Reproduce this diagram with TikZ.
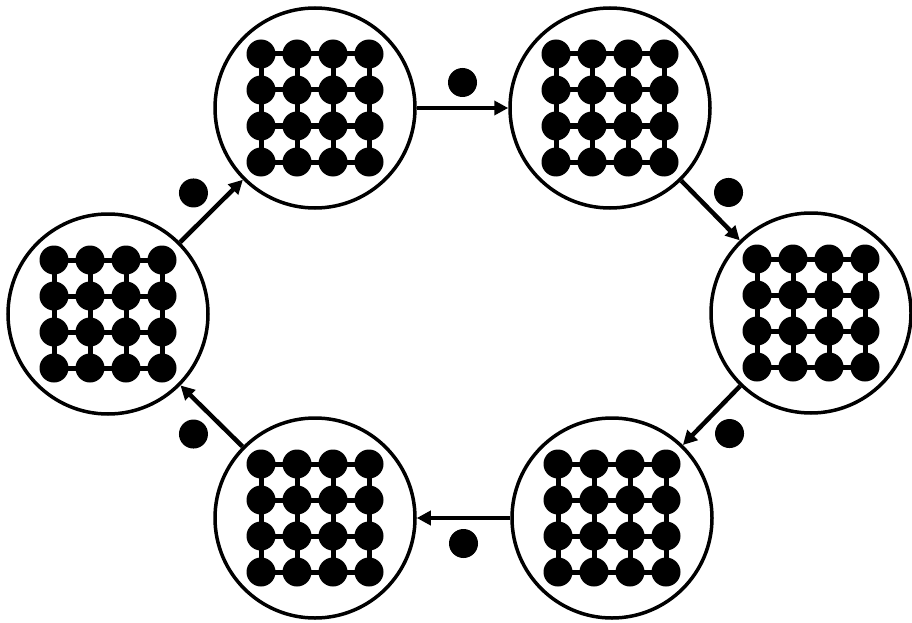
\documentclass[tikz,border=0pt]{standalone}
\usetikzlibrary{arrows.meta}
\tikzset{
  state/.style={circle, draw=black, line width=3.5pt, minimum size=200pt, inner sep=0pt},
  arr/.style={line width=4.5pt, -{Triangle[length=14pt,width=14pt]}},
  tok/.style={circle, fill=black, minimum size=29pt, inner sep=0pt, outer sep=11pt},
  site/.style={fill=black},
  bond/.style={line width=5pt, black},
  pics/lattice/.style={code={
    \foreach \i in {-54,-18,18,54} {
      \draw[bond] (\i,-54) -- (\i,54);
      \draw[bond] (-54,\i) -- (54,\i);
    }
    \foreach \i in {-54,-18,18,54} {
      \foreach \j in {-54,-18,18,54} {
        \fill[site] (\i,\j) circle (14.5);
      }
    }
  }}
}
\begin{document}
\begin{tikzpicture}[x=1pt,y=-1pt]
\useasboundingbox (0,0) rectangle (912,623);
\node[state] (TL) at (315,108) {};
\node[state] (TR) at (610,108) {};
\node[state] (R)  at (811,313) {};
\node[state] (BR) at (612,518) {};
\node[state] (BL) at (315,518) {};
\node[state] (L)  at (108,314) {};
\foreach \n in {TL,TR,R,BR,BL,L} {
  \pic at (\n.center) {lattice};
}
\draw[arr] (TL) -- node[tok, auto] (t1) {} (TR);
\draw[arr] (TR) -- node[tok, auto] (t2) {} (R);
\draw[arr] (R)  -- node[tok, auto] (t3) {} (BR);
\draw[arr] (BR) -- node[tok, auto] (t4) {} (BL);
\draw[arr] (BL) -- node[tok, auto] (t5) {} (L);
\draw[arr] (L)  -- node[tok, auto] (t6) {} (TL);
\end{tikzpicture}
\end{document}
